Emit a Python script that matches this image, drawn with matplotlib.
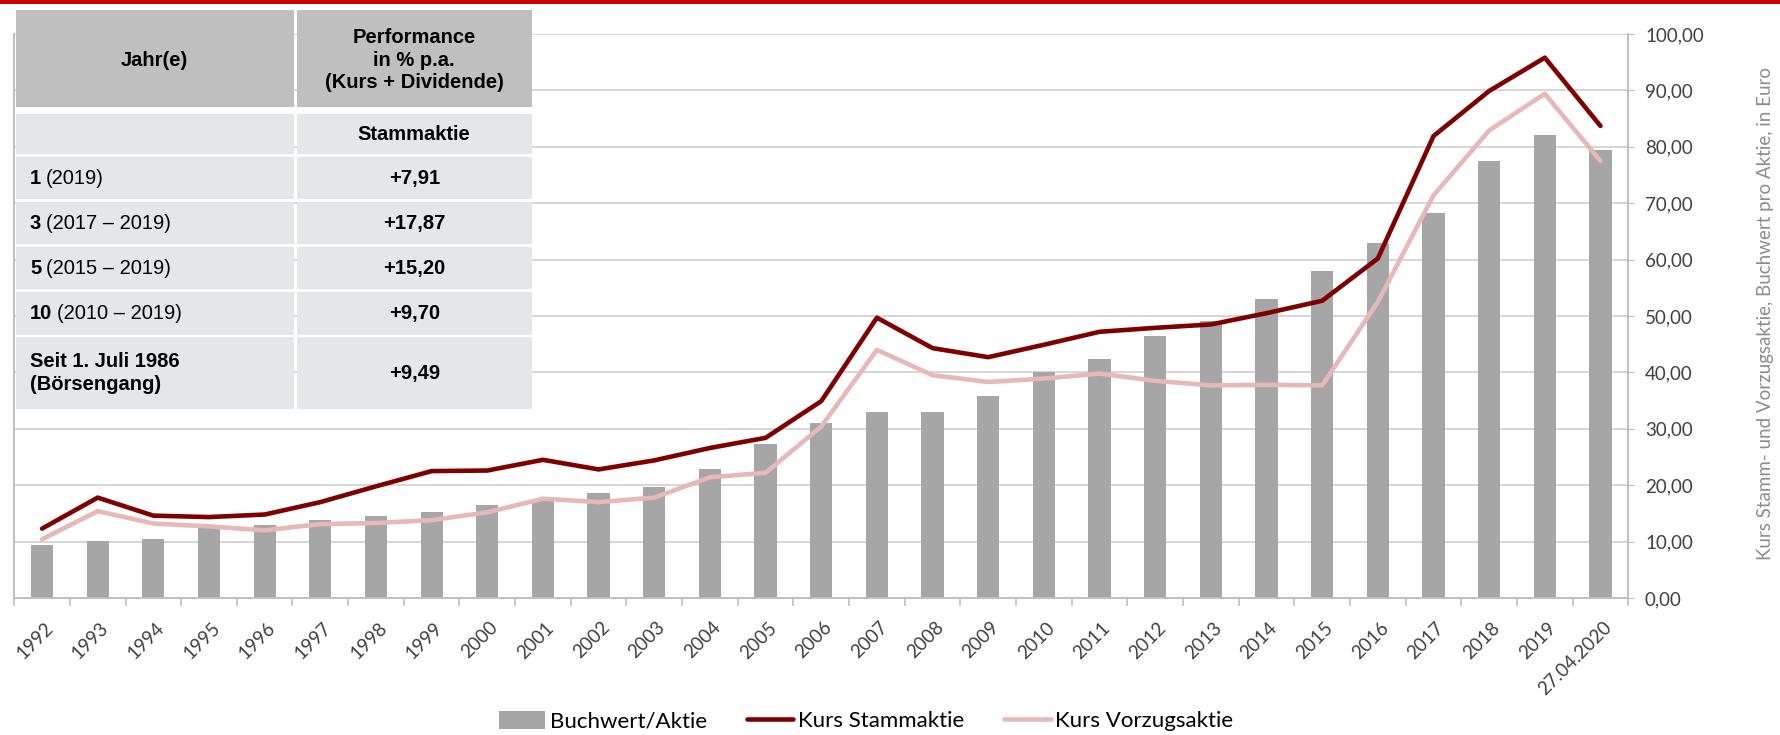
import matplotlib
matplotlib.use("Agg")
import matplotlib.pyplot as plt
from matplotlib.patches import Rectangle
from matplotlib.ticker import FuncFormatter, FixedLocator
import matplotlib.transforms as mtransforms
import numpy as np

# ---------------- data ----------------
categories = ['1992', '1993', '1994', '1995', '1996', '1997', '1998', '1999', '2000',
              '2001', '2002', '2003', '2004', '2005', '2006', '2007', '2008', '2009',
              '2010', '2011', '2012', '2013', '2014', '2015', '2016', '2017', '2018',
              '2019', '27.04.2020']
buchwert = [9.4, 10.1, 10.5, 12.4, 12.9, 13.8, 14.6, 15.3, 16.5, 17.4, 18.6, 19.7, 22.8,
            27.3, 31.0, 32.9, 33.0, 35.9, 40.1, 42.3, 46.4, 49.1, 53.1, 57.9, 63.0, 68.2,
            77.5, 82.1, 79.4]
kurs_stamm = [12.3, 17.8, 14.6, 14.35, 14.8, 17.0, 19.8, 22.5, 22.6, 24.5, 22.8, 24.4,
              26.6, 28.4, 34.9, 49.7, 44.3, 42.7, 44.9, 47.2, 47.9, 48.5, 50.5, 52.7,
              60.2, 81.9, 89.9, 95.8, 83.7]
kurs_vorzug = [10.4, 15.4, 13.2, 12.7, 12.0, 13.1, 13.3, 13.8, 15.2, 17.6, 17.0, 17.8,
               21.4, 22.2, 30.4, 44.0, 39.5, 38.3, 38.9, 39.8, 38.5, 37.7, 37.8, 37.7,
               52.5, 71.4, 82.9, 89.4, 77.5]
series_names = ['Buchwert/Aktie', 'Kurs Stammaktie', 'Kurs Vorzugsaktie']
y_label = 'Kurs Stamm- und Vorzugsaktie, Buchwert pro Aktie, in Euro'

table_header = ['Jahr(e)', 'Performance\nin % p.a.\n(Kurs + Dividende)']
table_subheader = 'Stammaktie'
table_years_bold = ['1', '3', '5', '10']
table_years_rest = ['(2019)', '(2017 – 2019)', '(2015 – 2019)', '(2010 – 2019)']
table_last_label = 'Seit 1. Juli 1986\n(Börsengang)'
table_values = ['+7,91', '+17,87', '+15,20', '+9,70', '+9,49']

# ---------------- style ----------------
W, H = 1780, 735
DPI = 100
C_BAR = '#A6A6A6'
C_STAMM = '#7F0000'
C_VORZ = '#E6B8B7'
C_GRID = '#D0D0D0'
C_AXIS = '#BFBFBF'
AX_FONT = 'Lato'
TAB_FONT = 'Liberation Sans'

fig = plt.figure(figsize=(W / DPI, H / DPI), dpi=DPI)
fig.patch.set_facecolor('white')

# axes in pixel geometry
x0, x1 = 14.2, 1628.3
y_top, y_bot = 34, 598
ax = fig.add_axes([x0 / W, 1 - y_bot / H, (x1 - x0) / W, (y_bot - y_top) / H])

x = np.arange(len(categories))
bars = ax.bar(x, buchwert, width=0.4, color=C_BAR, zorder=2, label=series_names[0])
l1, = ax.plot(x, kurs_stamm, color=C_STAMM, lw=3.3, zorder=3,
              solid_joinstyle='round', solid_capstyle='round', label=series_names[1])
l2, = ax.plot(x, kurs_vorzug, color=C_VORZ, lw=3.3, zorder=3,
              solid_joinstyle='round', solid_capstyle='round', label=series_names[2])

ax.set_xlim(-0.5, len(categories) - 0.5)
ax.set_ylim(0, 100)
ax.set_yticks(np.arange(0, 101, 10))
ax.yaxis.set_major_formatter(FuncFormatter(lambda v, p: f'{v:.2f}'.replace('.', ',')))
ax.yaxis.tick_right()
ax.grid(axis='y', color=C_GRID, lw=1.2, zorder=0)
ax.set_axisbelow(True)
for s in ['left', 'bottom', 'right']:
    ax.spines[s].set_color(C_AXIS)
    ax.spines[s].set_linewidth(1.4)
ax.spines['top'].set_visible(False)
ax.tick_params(axis='y', which='major', direction='out', length=4, color=C_AXIS,
               labelsize=13.5, labelcolor='#404040', pad=8, right=True, left=False)
for t in ax.get_yticklabels():
    t.set_fontfamily(AX_FONT)

ax.set_xticks(x)
ax.set_xticklabels(categories, rotation=45, ha='right', va='top',
                   rotation_mode='anchor', fontsize=13.5, fontfamily=AX_FONT, color='#404040')
ax.xaxis.set_minor_locator(FixedLocator(np.arange(-0.5, len(categories), 1.0)))
ax.tick_params(axis='x', which='major', length=0, pad=15)
ax.tick_params(axis='x', which='minor', length=6, color=C_AXIS, width=1.2, direction='out')
offset = mtransforms.ScaledTranslation(2 / DPI, 0, fig.dpi_scale_trans)
for t in ax.get_xticklabels():
    t.set_transform(t.get_transform() + offset)

# y label
fig.text(1765 / W, 1 - 313 / H, y_label, rotation=90, ha='center', va='center',
         fontsize=13.5, color='#8C8C8C', fontfamily=AX_FONT)

# legend
fig.legend([bars, l1, l2], series_names, loc='center',
           bbox_to_anchor=(866 / W, 1 - 721 / H), ncol=3, frameon=False,
           prop={'family': AX_FONT, 'size': 16}, handlelength=2.1, handleheight=0.9,
           handletextpad=0.2, columnspacing=1.8, borderaxespad=0)

# ---------------- overlay (table & red bar) ----------------
ov = fig.add_axes([0, 0, 1, 1], zorder=10)
ov.set_xlim(0, W)
ov.set_ylim(H, 0)
ov.axis('off')
ov.patch.set_alpha(0)

ov.add_patch(Rectangle((0, 0), W, 4.2, color='#CC0000', lw=0))

C_HEAD = '#BFBFBF'
C_BODY = '#E4E7EA'
c1 = (15.5, 293.5)
c2 = (296.5, 532)
rows = [(9.6, 107), (114, 154), (157, 199), (202, 244), (247, 289), (292, 335), (337, 409)]

for i, (ya, yb) in enumerate(rows):
    col = C_HEAD if i == 0 else C_BODY
    ov.add_patch(Rectangle((c1[0], ya), c1[1] - c1[0], yb - ya, color=col, lw=0))
    ov.add_patch(Rectangle((c2[0], ya), c2[1] - c2[0], yb - ya, color=col, lw=0))

FS = 14.5
cx1 = (c1[0] + c1[1]) / 2
cx2 = (c2[0] + c2[1]) / 2
tkw = dict(fontfamily=TAB_FONT, fontsize=FS, color='black')
ov.text(cx1, 60, table_header[0], ha='center', va='center', fontweight='bold', **tkw)
ov.text(cx2, 60, table_header[1], ha='center', va='center', fontweight='bold',
        linespacing=1.25, **tkw)
ov.text(cx2, 134, table_subheader, ha='center', va='center', fontweight='bold', **tkw)

renderer = fig.canvas.get_renderer()
xl = 30
for i in range(4):
    ya, yb = rows[i + 2]
    yc = (ya + yb) / 2
    tb = ov.text(xl, yc, table_years_bold[i], ha='left', va='center', fontweight='bold', **tkw)
    bb = tb.get_window_extent(renderer=renderer)
    ov.text(xl + bb.width + 5, yc, table_years_rest[i], ha='left', va='center', **tkw)
    ov.text(cx2, yc, table_values[i], ha='center', va='center', fontweight='bold', **tkw)

ya, yb = rows[6]
yc = (ya + yb) / 2
ov.text(xl, yc, table_last_label, ha='left', va='center', fontweight='bold',
        linespacing=1.25, **tkw)
ov.text(cx2, yc, table_values[4], ha='center', va='center', fontweight='bold', **tkw)

fig.savefig('out.png', dpi=DPI)
